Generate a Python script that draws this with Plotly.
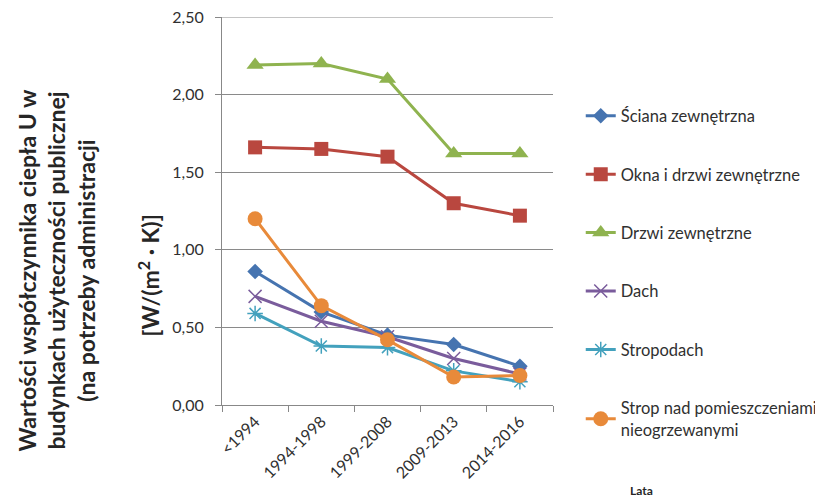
import plotly.graph_objects as go

categories = ["<1994", "1994-1998", "1999-2008", "2009-2013", "2014-2016"]
sciana = [0.86, 0.60, 0.45, 0.39, 0.25]
okna = [1.66, 1.65, 1.60, 1.30, 1.22]
drzwi = [2.19, 2.20, 2.10, 1.62, 1.62]
dach = [0.70, 0.54, 0.44, 0.30, 0.20]
stropodach = [0.59, 0.38, 0.37, 0.22, 0.15]
strop = [1.20, 0.64, 0.42, 0.18, 0.19]
yticks = [0.0, 0.5, 1.0, 1.5, 2.0, 2.5]

names = ["Ściana zewnętrzna", "Okna i drzwi zewnętrzne", "Drzwi zewnętrzne",
         "Dach", "Stropodach", "Strop nad pomieszczeniami<br>nieogrzewanymi"]
series = [sciana, okna, drzwi, dach, stropodach, strop]
colors = ["#4674B0", "#B9473F", "#8FB34F", "#7A5C9C", "#43A1BD", "#E88A3A"]
symbols = ["diamond", "square", "triangle-up", "x-thin", "asterisk", "circle"]
sizes = [12, 14, 15, 13, 13, 15]

FONT = "Lato"
OFF = 8  # page body margin
L, R, T, B = 222 - OFF, 556 - OFF, 17 - OFF, 405 - OFF
PW, PH = R - L, B - T

fig = go.Figure()
for i, (n, s) in enumerate(zip(names, series)):
    thin = symbols[i] in ("x-thin", "asterisk")
    fig.add_trace(go.Scatter(
        x=categories, y=s, name=n, mode="lines+markers",
        legendgroup=str(i),
        line=dict(color=colors[i], width=3),
        marker=dict(symbol=symbols[i], size=sizes[i], color=colors[i],
                    line=dict(color=colors[i], width=1.5 if thin else 0)),
    ))

fig.update_layout(
    width=823, height=500,
    margin=dict(l=L, r=823 - R, t=T, b=500 - B),
    paper_bgcolor="white", plot_bgcolor="white",
    separators=", ",
    font=dict(family=FONT, size=14, color="#404040"),
    showlegend=True,
    legend=dict(x=1.0 + 28 / PW, xanchor="left", y=0.79, yanchor="top",
                xref="paper", yref="paper",
                font=dict(family=FONT, size=16.5, color="#303030"),
                tracegroupgap=34,
                bgcolor="rgba(0,0,0,0)"),
)
fig.update_xaxes(
    type="category", range=[-0.5, 4.5], automargin=False,
    showline=True, linecolor="#888888", linewidth=1,
    ticks="outside", tickson="boundaries", ticklen=6, tickcolor="#888888",
    tickangle=-45, showgrid=False,
    tickfont=dict(family=FONT, size=16, color="#303030"),
)
fig.update_yaxes(
    range=[0, 2.5], tickmode="array", tickvals=yticks,
    ticktext=[f"{v:.2f}".replace(".", ",") for v in yticks],
    automargin=False, ticklabeloverflow="allow",
    showline=True, linecolor="#888888", linewidth=1,
    ticks="outside", ticklen=6, tickcolor="#888888",
    showgrid=True, gridcolor="#8a8a8a", gridwidth=1,
    zeroline=False, ticklabelstandoff=8,
    tickfont=dict(family=FONT, size=16, color="#303030"),
)

# top gridline (at the range edge)
fig.add_shape(type="line", xref="paper", yref="y", x0=0, x1=1,
              y0=yticks[-1], y1=yticks[-1], layer="below",
              line=dict(color="#8a8a8a", width=1))

fig.add_annotation(
    text="Wartości współczynnika ciepła U w<br>budynkach użyteczności publicznej<br>(na potrzeby administracji",
    xref="paper", yref="paper", x=(55 - OFF - L) / PW, y=(B - (270 - OFF)) / PH,
    xanchor="center", yanchor="middle", textangle=-90, showarrow=False,
    font=dict(family=FONT, size=23, color="#262626", weight="bold"), align="center",
)
fig.add_annotation(
    text="[W/(m<sup>2</sup> · K)]",
    xref="paper", yref="paper", x=(148 - OFF - L) / PW, y=(B - (275 - OFF)) / PH,
    xanchor="center", yanchor="middle", textangle=-90, showarrow=False,
    font=dict(family=FONT, size=23, color="#262626", weight="bold"),
)
fig.add_annotation(
    text="Lata", xref="paper", yref="paper", x=(645 - OFF - L) / PW, y=(B - (490 - OFF)) / PH,
    xanchor="center", yanchor="middle", showarrow=False,
    font=dict(family=FONT, size=12, color="#262626", weight="bold"),
)

fig.write_html("out.html")
